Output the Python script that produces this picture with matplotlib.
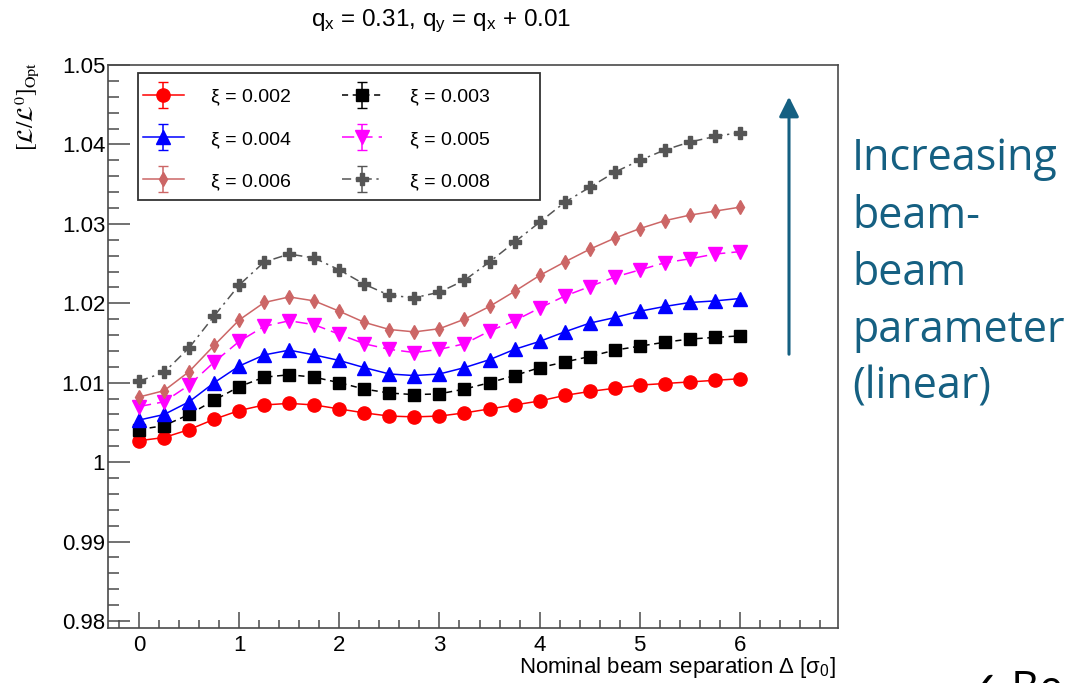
import numpy as np
import matplotlib
matplotlib.use("Agg")
import matplotlib.pyplot as plt
from matplotlib.ticker import FixedLocator, MultipleLocator, FuncFormatter
from matplotlib.patches import Rectangle, FancyArrowPatch
from matplotlib.container import ErrorbarContainer
from matplotlib.legend_handler import HandlerErrorbar

plt.rcParams['font.family'] = ['Liberation Sans', 'DejaVu Sans']
plt.rcParams['mathtext.fontset'] = 'custom'
plt.rcParams['mathtext.rm'] = 'Liberation Sans'
plt.rcParams['mathtext.it'] = 'Liberation Sans:italic'
plt.rcParams['mathtext.bf'] = 'Liberation Sans:bold'

# separation in units of sigma_0
sep = [0, 0.25, 0.5, 0.75, 1, 1.25, 1.5, 1.75, 2, 2.25, 2.5, 2.75, 3,
       3.25, 3.5, 3.75, 4, 4.25, 4.5, 4.75, 5, 5.25, 5.5, 5.75, 6]

lumi_002 = [1.0027, 1.0031, 1.0041, 1.0054, 1.0065, 1.0072, 1.0074, 1.0072, 1.0067,
            1.0062, 1.0058, 1.0057, 1.0058, 1.0062, 1.0067, 1.0072, 1.0077, 1.0084,
            1.0089, 1.0093, 1.0097, 1.0099, 1.0101, 1.0103, 1.0105]
lumi_003 = [1.0041, 1.0046, 1.0060, 1.0078, 1.0095, 1.0107, 1.0110, 1.0107, 1.0100,
            1.0092, 1.0087, 1.0085, 1.0086, 1.0092, 1.0100, 1.0109, 1.0119, 1.0126,
            1.0133, 1.0141, 1.0146, 1.0151, 1.0155, 1.0157, 1.0159]
lumi_004 = [1.0053, 1.0060, 1.0076, 1.0100, 1.0121, 1.0135, 1.0141, 1.0135, 1.0128,
            1.0119, 1.0111, 1.0109, 1.0111, 1.0119, 1.0129, 1.0142, 1.0152, 1.0164,
            1.0175, 1.0182, 1.0190, 1.0196, 1.0201, 1.0203, 1.0206]
lumi_005 = [1.0070, 1.0076, 1.0097, 1.0126, 1.0152, 1.0171, 1.0178, 1.0173, 1.0161,
            1.0149, 1.0142, 1.0138, 1.0142, 1.0149, 1.0165, 1.0178, 1.0194, 1.0209,
            1.0221, 1.0233, 1.0242, 1.0251, 1.0256, 1.0262, 1.0265]
lumi_006 = [1.0082, 1.0090, 1.0114, 1.0147, 1.0179, 1.0201, 1.0208, 1.0203, 1.0190,
            1.0176, 1.0167, 1.0164, 1.0168, 1.0180, 1.0196, 1.0215, 1.0235, 1.0252,
            1.0268, 1.0282, 1.0294, 1.0304, 1.0311, 1.0316, 1.0321]
lumi_008 = [1.0102, 1.0113, 1.0144, 1.0184, 1.0223, 1.0252, 1.0262, 1.0257, 1.0242,
            1.0224, 1.0210, 1.0207, 1.0214, 1.0229, 1.0252, 1.0277, 1.0302, 1.0327,
            1.0346, 1.0365, 1.0380, 1.0393, 1.0403, 1.0410, 1.0415]

labels = ["ξ = 0.002", "ξ = 0.003", "ξ = 0.004", "ξ = 0.005", "ξ = 0.006", "ξ = 0.008"]
series = [lumi_002, lumi_003, lumi_004, lumi_005, lumi_006, lumi_008]

styles = [
    dict(color='#ff0000', marker='o', ms=9.5, ls='-'),
    dict(color='#000000', marker='s', ms=8.8, ls=(0, (4, 3))),
    dict(color='#0000ff', marker='^', ms=9.5, ls='-'),
    dict(color='#ff00ff', marker='v', ms=9.5, ls=(0, (8, 4))),
    dict(color='#cc6666', marker='d', ms=7.5, ls='-'),
    dict(color='#555555', marker='P', ms=9, ls=(0, (6, 3, 1.5, 3))),
]

side_text = ["Increasing", "beam-", "beam", "parameter", "(linear)"]

W, H = 1069, 683
fig = plt.figure(figsize=(W / 100, H / 100), dpi=100)
ax = fig.add_axes([108 / W, 1 - 628 / H, 730 / W, 563 / H])

handles = []
for y, lab, st in zip(series, labels, styles):
    ax.plot(sep, y, color=st['color'], marker=st['marker'], ms=st['ms'],
            ls=st['ls'], lw=1.1, mec=st['color'], mfc=st['color'])
    # legend entry drawn like a ROOT graph with error bars
    h = ax.errorbar([np.nan], [np.nan], yerr=[1.0], color=st['color'],
                    marker=st['marker'], ms=st['ms'], ls=st['ls'], lw=1.1,
                    elinewidth=1.1, capsize=3.6, label=lab)
    handles.append(h)

ax.set_xlim(-0.31, 6.98)
ax.set_ylim(0.97912, 1.05)

ax.xaxis.set_major_locator(FixedLocator([0, 1, 2, 3, 4, 5, 6]))
ax.xaxis.set_minor_locator(MultipleLocator(0.2))
ax.yaxis.set_major_locator(MultipleLocator(0.01))
ax.yaxis.set_minor_locator(MultipleLocator(0.002))
ax.yaxis.set_major_formatter(FuncFormatter(lambda v, p: f"{round(v, 3):g}"))

frame_col = '#4a4a4a'
for s in ax.spines.values():
    s.set_color(frame_col)
    s.set_linewidth(1.2)
ax.tick_params(axis='both', which='both', direction='in', color=frame_col,
               width=1.1, labelsize=16, top=False, right=False)
ax.tick_params(axis='y', which='major', length=16, pad=2)
ax.tick_params(axis='y', which='minor', length=8)
ax.tick_params(axis='x', which='major', length=11.5, pad=5)
ax.tick_params(axis='x', which='minor', length=5.8)

# legend box
ax.add_patch(Rectangle((0.0411, 0.7602), 0.5507, 0.2256, transform=ax.transAxes,
                       fill=True, fc='white', ec='#333333', lw=1.3, zorder=4))
order = [0, 2, 4, 1, 3, 5]
leg = ax.legend([handles[i] for i in order], [labels[i] for i in order],
                ncol=2, loc='upper left', bbox_to_anchor=(0.048, 0.959),
                frameon=False, fontsize=14, borderpad=0, borderaxespad=0,
                handlelength=2.1, handletextpad=1.4, columnspacing=2.6,
                labelspacing=1.26,
                handler_map={ErrorbarContainer: HandlerErrorbar(yerr_size=0.65)})
leg.set_zorder(5)

fig.text(441 / W, 1 - 21 / H,
         r"q$_{\mathrm{x}}$ = 0.31, q$_{\mathrm{y}}$ = q$_{\mathrm{x}}$ + 0.01",
         ha='center', va='center', fontsize=17.5)
fig.text(27 / W, 1 - 62 / H, r"$[\mathcal{L}/\mathcal{L}^0]_\mathrm{Opt}$",
         rotation=90, ha='center', va='top', fontsize=16.5, math_fontfamily='stix')
fig.text(836 / W, 1 - 673 / H, r"Nominal beam separation Δ [σ$_{\mathrm{0}}$]",
         ha='right', va='baseline', fontsize=16)

# annotation on the right
teal = '#156082'
fig.add_artist(FancyArrowPatch((789 / W, 1 - 357 / H), (789 / W, 1 - 94 / H),
                               transform=fig.transFigure, arrowstyle='-|>',
                               mutation_scale=30, lw=2.2, color=teal))
baselines = [170, 228, 285, 342, 399]
for line, yb in zip(side_text, baselines):
    fig.text(852 / W, 1 - yb / H, line, ha='left', va='baseline',
             fontsize=31, color=teal, family=['Open Sans', 'DejaVu Sans'])
fig.text(964 / W, 1 - 669 / H, "✓ Be", ha='left', va='top', fontsize=31,
         color='black', family=['Open Sans', 'DejaVu Sans'])

fig.savefig("out.png", dpi=100)
